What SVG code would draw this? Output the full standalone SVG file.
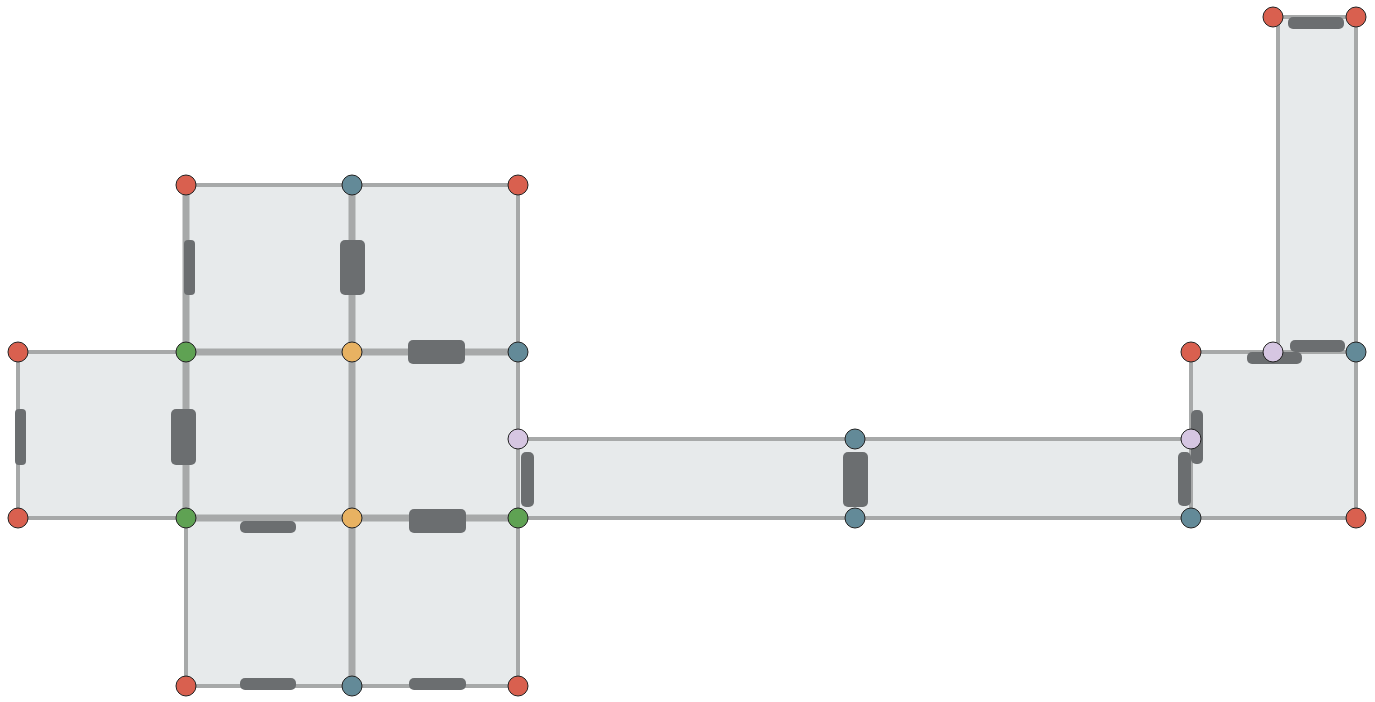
<svg xmlns="http://www.w3.org/2000/svg" width="1375" height="702" viewBox="0 0 1375 702">
<style>
.room{fill:#e7eaeb}
.w{stroke:#a7a9a9;stroke-width:4;stroke-linecap:square;fill:none}
.wi{stroke:#a7a9a9;stroke-width:7;fill:none}
.door{fill:#6b6e70}
.n{stroke:#222;stroke-width:1}
.red{fill:#d9604f}.teal{fill:#638a98}.green{fill:#5fa253}.orange{fill:#e8b262}.lav{fill:#d6c6e2}
</style>
<rect width="1375" height="702" fill="#ffffff"/>
<g id="rooms">
<rect id="roomA" class="room" x="186" y="185" width="166" height="167"/>
<rect id="roomB" class="room" x="352" y="185" width="166" height="167"/>
<rect id="roomC" class="room" x="18" y="352" width="168" height="166"/>
<rect id="roomD" class="room" x="186" y="352" width="166" height="166"/>
<rect id="roomE" class="room" x="352" y="352" width="166" height="166"/>
<rect id="roomF" class="room" x="186" y="518" width="166" height="168"/>
<rect id="roomG" class="room" x="352" y="518" width="166" height="168"/>
<rect id="corridor" class="room" x="518" y="439" width="673" height="79"/>
<rect id="roomH" class="room" x="1191" y="352" width="165" height="166"/>
<rect id="roomI" class="room" x="1278" y="17" width="78" height="335"/>
</g>
<g id="walls">
<path class="w" d="M186 185H518V352M18 352H186M18 352V518H186M186 518V686H518V518M518 352V518M518 439H1191M518 518H1191M1191 352V518M1191 352H1356V518H1191M1278 17V352M1356 17V352M1273 17H1356"/>
<path class="wi" d="M186 185V518M352 185V686M186 352H518M186 518H518"/>
</g>
<g id="doors">
<rect class="door" x="184" y="240" width="11" height="55" rx="4"/>
<rect class="door" x="340" y="240" width="25" height="55" rx="5"/>
<rect class="door" x="408" y="340" width="57" height="24" rx="5"/>
<rect class="door" x="15" y="409" width="11" height="56" rx="4"/>
<rect class="door" x="171" y="409" width="25" height="56" rx="5"/>
<rect class="door" x="240" y="521" width="56" height="12" rx="5"/>
<rect class="door" x="409" y="509" width="57" height="24" rx="5"/>
<rect class="door" x="240" y="678" width="56" height="12" rx="5"/>
<rect class="door" x="409" y="678" width="57" height="12" rx="5"/>
<rect class="door" x="521" y="452" width="13" height="55" rx="5"/>
<rect class="door" x="843" y="452" width="25" height="55" rx="5"/>
<rect class="door" x="1178" y="452" width="13" height="54" rx="5"/>
<rect class="door" x="1191" y="410" width="12" height="54" rx="5"/>
<rect class="door" x="1247" y="352" width="55" height="12" rx="5"/>
<rect class="door" x="1290" y="340" width="55" height="12" rx="5"/>
<rect class="door" x="1288" y="17" width="56" height="12" rx="5"/>
</g>
<g id="nodes">
<circle class="n red" cx="186" cy="185" r="10"/>
<circle class="n teal" cx="352" cy="185" r="10"/>
<circle class="n red" cx="518" cy="185" r="10"/>
<circle class="n red" cx="18" cy="352" r="10"/>
<circle class="n green" cx="186" cy="352" r="10"/>
<circle class="n orange" cx="352" cy="352" r="10"/>
<circle class="n teal" cx="518" cy="352" r="10"/>
<circle class="n lav" cx="518" cy="439" r="10"/>
<circle class="n red" cx="18" cy="518" r="10"/>
<circle class="n green" cx="186" cy="518" r="10"/>
<circle class="n orange" cx="352" cy="518" r="10"/>
<circle class="n green" cx="518" cy="518" r="10"/>
<circle class="n red" cx="186" cy="686" r="10"/>
<circle class="n teal" cx="352" cy="686" r="10"/>
<circle class="n red" cx="518" cy="686" r="10"/>
<circle class="n teal" cx="855" cy="439" r="10"/>
<circle class="n teal" cx="855" cy="518" r="10"/>
<circle class="n lav" cx="1191" cy="439" r="10"/>
<circle class="n teal" cx="1191" cy="518" r="10"/>
<circle class="n red" cx="1191" cy="352" r="10"/>
<circle class="n lav" cx="1273" cy="352" r="10"/>
<circle class="n teal" cx="1356" cy="352" r="10"/>
<circle class="n red" cx="1356" cy="518" r="10"/>
<circle class="n red" cx="1273" cy="17" r="10"/>
<circle class="n red" cx="1356" cy="17" r="10"/>
</g>
</svg>
